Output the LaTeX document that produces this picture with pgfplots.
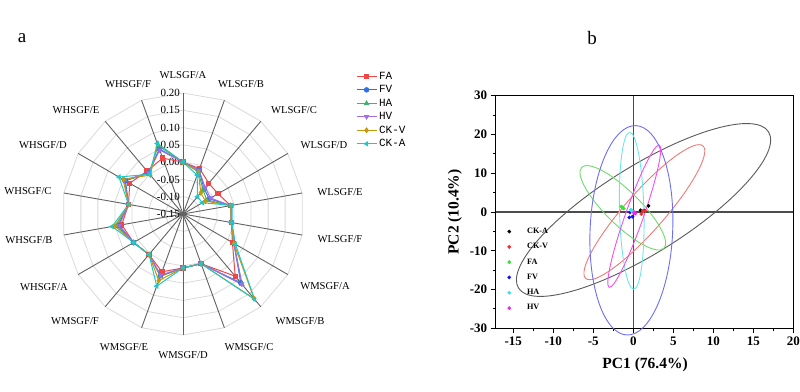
\documentclass[border=0pt]{standalone}
\usepackage{pgfplots}
\pgfplotsset{compat=1.18}
\usepackage{pgfplotstable}
\usepackage{fontspec}
\setmainfont{Liberation Serif}
\newfontfamily\monofont{Liberation Mono}
\definecolor{cFA}{RGB}{240,70,70}
\definecolor{cFV}{RGB}{50,110,230}
\definecolor{cHA}{RGB}{60,180,110}
\definecolor{cHV}{RGB}{160,110,230}
\definecolor{cCKV}{RGB}{200,150,10}
\definecolor{cCKA}{RGB}{30,200,200}
\definecolor{pRed}{RGB}{255,40,40}
\definecolor{pGreen}{RGB}{50,230,50}
\definecolor{pBlue}{RGB}{20,20,230}
\definecolor{pCyan}{RGB}{50,230,230}
\definecolor{pMag}{RGB}{240,40,240}
\definecolor{eBlack}{RGB}{90,90,90}
\definecolor{eRed}{RGB}{240,120,120}
\definecolor{eGreen}{RGB}{110,220,110}
\definecolor{eBlue}{RGB}{110,110,240}
\definecolor{eCyan}{RGB}{110,230,230}
\definecolor{eMag}{RGB}{240,80,240}

\pgfplotstableread{
k FA FV HA HV CKV CKA
0 0.000 0.000 0.000 0.000 0.000 0.000
1 -0.010 -0.015 -0.020 -0.015 -0.020 -0.030
2 -0.034 -0.055 -0.060 -0.050 -0.070 -0.085
3 -0.033 -0.062 -0.070 -0.058 -0.075 -0.085
4 -0.010 -0.010 -0.010 -0.010 -0.010 -0.006
5 -0.008 -0.008 -0.008 -0.008 -0.008 -0.006
6 0.015 0.020 0.020 0.020 0.020 0.025
7 0.085 0.110 0.115 0.115 0.170 0.172
8 0.003 0.003 0.003 0.003 0.003 0.003
9 0.006 0.006 0.006 0.006 0.006 0.006
10 0.028 0.040 0.042 0.038 0.055 0.072
11 0.003 0.003 0.003 0.003 0.003 0.003
12 0.015 0.015 0.015 0.015 0.015 0.015
13 0.030 0.040 0.045 0.037 0.050 0.058
14 0.010 0.010 0.010 0.010 0.010 0.010
15 0.028 0.042 0.045 0.046 0.050 0.064
16 0.012 0.005 0.003 0.005 -0.003 0.000
17 0.022 0.050 0.060 0.047 0.067 0.067
18 0.000 0.000 0.000 0.000 0.000 0.000
}\radar

\pgfplotstableread{
x y
0.9 0.45
1.4 0.35
1.9 1.6
}\pCKA
\pgfplotstableread{
x y
1.0 -0.5
1.2 0.3
1.5 0.3
}\pCKV
\pgfplotstableread{
x y
-1.5 1.4
-1.35 1.2
-1.2 0.9
}\pFA
\pgfplotstableread{
x y
-0.4 -0.1
-0.5 -1.4
-0.1 -1.2
}\pFV
\pgfplotstableread{
x y
-0.3 0.6
-0.2 0.3
-0.1 0.1
}\pHA
\pgfplotstableread{
x y
0.1 -0.2
0.25 -0.4
0.15 -0.1
}\pHV

\newcommand{\radplot}[3]{%
\addplot[#1, line width=1pt, mark=#2, mark size=2.2pt, mark options={solid,fill=#1,#3}]
 table[x expr={(\thisrow{\currentcol}+0.15)*sin(20*\thisrow{k})}, y expr={(\thisrow{\currentcol}+0.15)*cos(20*\thisrow{k})}] {\radar};}

\begin{document}
\begin{tikzpicture}[x=1pt,y=1pt]
\useasboundingbox (0,0) rectangle (800,391);
\node[font=\fontsize{19}{22}\selectfont] at (22,353) {a};
\node[font=\fontsize{19}{22}\selectfont] at (592,353) {b};

% radar grid
\begin{scope}[shift={(183,177)}]
\foreach \r in {17.286,34.571,51.857,69.143,86.429,103.714,121}{
  \draw[black!15, line width=0.8pt] (90:\r) \foreach \a in {70,50,...,-250}{ -- (\a:\r)} -- cycle;
}
\foreach \a in {90,70,...,-250}{
  \draw[black!62, line width=0.9pt] (0,0) -- (\a:121);
}
\end{scope}
% radial tick labels
\foreach \v/\t in {0.20/0.20,0.15/0.15,0.10/0.10,0.05/0.05,0.00/0.00,-0.05/-0.05,-0.10/-0.10,-0.15/-0.15}{
  \node[anchor=east, font=\fontsize{11}{13}\selectfont, inner sep=1pt] at (181, {177+(\v+0.15)*345.714}) {\t};
}
% category labels
\begin{scope}[every node/.style={font=\fontsize{10.6}{12}\selectfont, inner sep=0pt}]
\node at (183,316) {WLSGF/A};
\node at (241,307) {WLSGF/B};
\node at (294,281) {WLSGF/C};
\node at (324,246) {WLSGF/D};
\node at (340,199) {WLSGF/E};
\node at (340,152) {WLSGF/F};
\node at (325,105) {WMSGF/A};
\node at (300,70) {WMSGF/B};
\node at (249,44) {WMSGF/C};
\node at (183,36) {WMSGF/D};
\node at (124,44) {WMSGF/E};
\node at (75,70) {WMSGF/F};
\node at (44,104) {WHSGF/A};
\node at (29,151) {WHSGF/B};
\node at (28,200) {WHSGF/C};
\node at (43,246) {WHSGF/D};
\node at (76,281) {WHSGF/E};
\node at (128,307) {WHSGF/F};
\end{scope}

\begin{axis}[at={(183pt,177pt)}, anchor=center, scale only axis,
  width=345.714pt, height=345.714pt,
  xmin=-0.5, xmax=0.5, ymin=-0.5, ymax=0.5, hide axis, clip=false,
  legend style={at={(rel axis cs:1.0,0.917)}, anchor=north west, draw=none, fill=none,
    font=\monofont\fontsize{11}{12}\selectfont, row sep=0.7pt, inner sep=0pt},
  legend cell align=left,
  legend image code/.code={\draw[mark repeat=2,mark phase=2,#1] plot coordinates {(0pt,0pt) (10pt,0pt) (20pt,0pt)};}]
\def\currentcol{FA}\radplot{cFA}{square*}{}
\addlegendentry{FA}
\def\currentcol{FV}\radplot{cFV}{*}{}
\addlegendentry{FV}
\def\currentcol{HA}\radplot{cHA}{triangle*}{}
\addlegendentry{HA}
\def\currentcol{HV}\radplot{cHV}{triangle*}{rotate=180}
\addlegendentry{HV}
\def\currentcol{CKV}\radplot{cCKV}{diamond*}{}
\addlegendentry{CK-V}
\def\currentcol{CKA}\radplot{cCKA}{triangle*}{rotate=90}
\addlegendentry{CK-A}
\end{axis}

\begin{axis}[at={(495.7pt,62.7pt)}, anchor=south west, scale only axis,
  width=297.6pt, height=232.6pt,
  xmin=-17.2, xmax=20, ymin=-30, ymax=30,
  xtick={-15,-10,...,20}, ytick={-30,-20,...,30},
  minor x tick num=1, minor y tick num=1,
  tick pos=left, tick align=outside,
  major tick length=5pt, minor tick length=3pt,
  axis line style={black, line width=1.1pt},
  every tick/.style={black, line width=0.9pt},
  /pgf/number format/assume math mode=true,
  ticklabel style={font=\bfseries\fontsize{13}{15}\selectfont},
  xlabel={PC1 (76.4\%)}, ylabel={PC2 (10.4\%)},
  label style={font=\bfseries\fontsize{15.5}{18}\selectfont},
  xlabel style={at={(axis description cs:0.502,-0.158)}, anchor=center},
  ylabel style={at={(axis description cs:-0.137,0.5)}, anchor=center},
  clip=false,
  legend style={at={(rel axis cs:0.015,0.449)}, anchor=north west, draw=none, fill=none,
    font=\bfseries\fontsize{8.2}{10}\selectfont, row sep=4.4pt},
  legend cell align=left,
  legend image code/.code={\draw[#1] plot coordinates {(0.2cm,0cm)}; \path (0cm,0cm) (0.75cm,0cm);}]
\draw[black!70, line width=1.5pt] (axis cs:0,-30) -- (axis cs:0,30);
\draw[black!70, line width=1.5pt] (axis cs:-17.2,0) -- (axis cs:20,0);
\draw[eBlack, line width=0.9pt, rotate around={32:(axis cs:1.28,0.52)}] (axis cs:1.28,0.52) ellipse[x radius=147.4pt, y radius=43.6pt];
\draw[eRed, line width=0.9pt, rotate around={48.5:(axis cs:1.38,-0.05)}] (axis cs:1.38,-0.05) ellipse[x radius=88.5pt, y radius=19.5pt];
\draw[eGreen, line width=0.9pt, rotate around={-44.5:(axis cs:-1.31,1.08)}] (axis cs:-1.31,1.08) ellipse[x radius=57.7pt, y radius=17pt];
\draw[eBlue, line width=0.9pt, rotate around={87.5:(axis cs:-0.24,-4.72)}] (axis cs:-0.24,-4.72) ellipse[x radius=104.8pt, y radius=41.3pt];
\draw[eCyan, line width=0.9pt, rotate around={91.5:(axis cs:-0.2,0.31)}] (axis cs:-0.2,0.31) ellipse[x radius=78.5pt, y radius=12.2pt];
\draw[eMag, line width=0.9pt, rotate around={70.6:(axis cs:0.12,-1.08)}] (axis cs:0.12,-1.08) ellipse[x radius=75.4pt, y radius=9pt];
\addplot[only marks, mark=*, mark size=1.7pt, black] table {\pCKA};
\addlegendentry{CK-A}
\addplot[only marks, mark=*, mark size=1.7pt, pRed] table {\pCKV};
\addlegendentry{CK-V}
\addplot[only marks, mark=*, mark size=1.7pt, pGreen] table {\pFA};
\addlegendentry{FA}
\addplot[only marks, mark=*, mark size=1.7pt, pBlue] table {\pFV};
\addlegendentry{FV}
\addplot[only marks, mark=*, mark size=1.7pt, pCyan] table {\pHA};
\addlegendentry{HA}
\addplot[only marks, mark=*, mark size=1.7pt, pMag] table {\pHV};
\addlegendentry{HV}
\end{axis}
\end{tikzpicture}
\end{document}
